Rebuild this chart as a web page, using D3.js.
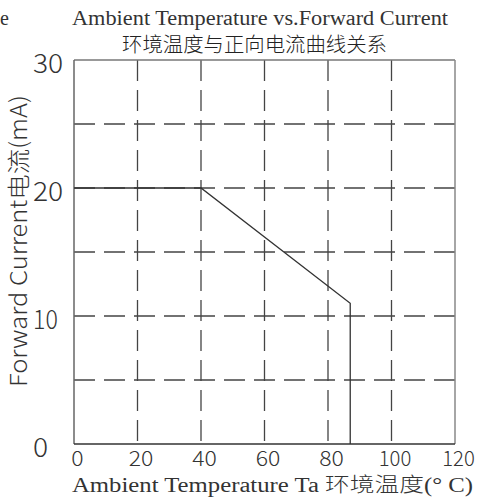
<!DOCTYPE html>
<html>
<head>
<meta charset="utf-8">
<script src="https://cdn.jsdelivr.net/npm/d3@7"></script>
<style>
  body { margin: 0; background: #fff; }
  svg { display: block; }
</style>
</head>
<body>
<div id="chart-area"></div>
<script>
// Data
const xTicks = [0, 20, 40, 60, 80, 100, 120];
const yTicks = [0, 10, 20, 30];
const xGrid = [20, 40, 60, 80, 100];
const yGrid = [5, 10, 15, 20, 25];
const curveTemp = [0, 40, 87, 87];
const curveCurrent = [20, 20, 11, 0];

const titleEn = 'Ambient Temperature vs.Forward Current';
const titleCn = '环境温度与正向电流曲线关系';
const xTitleParts = ['Ambient Temperature Ta ', '环境温度', '(° C)'];
const yTitle = 'Forward Current电流(mA)';

// Margin
const margin = { left: 74, right: 28, top: 60, bottom: 55 };
const width = 483 - margin.left - margin.right;
const height = 499 - margin.top - margin.bottom;

const svg = d3.select('#chart-area')
  .append('svg')
    .attr('width', 483)
    .attr('height', 499);

const g = svg.append('g')
  .attr('transform', 'translate(' + margin.left + ', ' + margin.top + ')');

// Scales
const x = d3.scaleLinear().domain([0, 120]).range([0, width]);
const y = d3.scaleLinear().domain([0, 30]).range([height, 0]);

const sans = '"Noto Sans CJK SC", Roboto, sans-serif';
const serif = '"Liberation Serif", "Noto Sans CJK SC", serif';

// rough label width, '1' is narrow in the reference
const labelWidth = (s, fs) => d3.sum(s.split(''), c => c === '1' ? 0.36 * fs : 0.56 * fs);

// Grid
g.selectAll('.hgrid')
  .data(yGrid)
  .enter().append('line')
    .attr('class', 'hgrid')
    .attr('x1', 0).attr('x2', width)
    .attr('y1', d => y(d)).attr('y2', d => y(d))
    .attr('stroke', '#444')
    .attr('stroke-width', 1.3)
    .attr('stroke-dasharray', '21,9');

g.selectAll('.vgrid')
  .data(xGrid)
  .enter().append('line')
    .attr('class', 'vgrid')
    .attr('x1', d => x(d)).attr('x2', d => x(d))
    .attr('y1', 0).attr('y2', height)
    .attr('stroke', '#444')
    .attr('stroke-width', 1.3)
    .attr('stroke-dasharray', '21,9');

// Frame
g.append('line').attr('x1', 0).attr('x2', width).attr('y1', 0).attr('y2', 0)
  .attr('stroke', '#777').attr('stroke-width', 1.5);
g.append('line').attr('x1', width).attr('x2', width).attr('y1', 0).attr('y2', height)
  .attr('stroke', '#888').attr('stroke-width', 1.5);
g.append('line').attr('x1', 0).attr('x2', 0).attr('y1', 0).attr('y2', height)
  .attr('stroke', '#666').attr('stroke-width', 1.5);
g.append('line').attr('x1', 0).attr('x2', width).attr('y1', height).attr('y2', height)
  .attr('stroke', '#333').attr('stroke-width', 1.5);

// Curve
const line = d3.line()
  .x(d => x(d[0]))
  .y(d => y(d[1]));

g.append('path')
  .datum(d3.zip(curveTemp, curveCurrent))
  .attr('d', line)
  .attr('fill', 'none')
  .attr('stroke', '#333')
  .attr('stroke-width', 1.3);

// X tick labels
g.selectAll('.xlabel')
  .data(xTicks)
  .enter().append('text')
    .attr('class', 'xlabel')
    .attr('x', d => x(d) + 3.5)
    .attr('y', height + 22)
    .attr('text-anchor', 'middle')
    .attr('font-family', sans)
    .attr('font-weight', 300)
    .attr('font-size', '21px')
    .attr('fill', '#333')
    .attr('textLength', d => labelWidth(String(d), 22))
    .attr('lengthAdjust', 'spacingAndGlyphs')
    .text(d => d);

// Y tick labels
g.selectAll('.ylabel')
  .data(yTicks)
  .enter().append('text')
    .attr('class', 'ylabel')
    .attr('x', 33 - margin.left)
    .attr('y', d => y(d) + 13)
    .attr('font-family', sans)
    .attr('font-weight', 300)
    .attr('font-size', '27px')
    .attr('fill', '#333')
    .attr('textLength', d => labelWidth(String(d), 27))
    .attr('lengthAdjust', 'spacingAndGlyphs')
    .text(d => d);

// Titles
svg.append('text')
  .attr('x', 0).attr('y', 25)
  .attr('font-family', serif)
  .attr('font-size', '20px')
  .attr('fill', '#333')
  .text('e');

svg.append('text')
  .attr('x', 72).attr('y', 25)
  .attr('font-family', serif)
  .attr('font-size', '20px')
  .attr('fill', '#333')
  .attr('textLength', 376)
  .attr('lengthAdjust', 'spacingAndGlyphs')
  .text(titleEn);

svg.append('text')
  .attr('x', 122).attr('y', 52)
  .attr('font-family', '"Noto Sans CJK SC", sans-serif')
  .attr('font-weight', 300)
  .attr('font-size', '20px')
  .attr('fill', '#222')
  .attr('textLength', 265)
  .attr('lengthAdjust', 'spacingAndGlyphs')
  .text(titleCn);

// X label
const xt = svg.append('text')
  .attr('x', 72).attr('y', 492)
  .attr('font-family', serif)
  .attr('font-size', '20px')
  .attr('fill', '#333')
  .attr('textLength', 401)
  .attr('lengthAdjust', 'spacingAndGlyphs');

xt.selectAll('tspan')
  .data(xTitleParts)
  .enter().append('tspan')
    .attr('font-family', (d, i) => i === 1 ? sans : serif)
    .attr('font-weight', (d, i) => i === 1 ? 300 : null)
    .text(d => d);

// Y label
svg.append('text')
  .attr('transform', 'translate(27, 241) rotate(-90)')
  .attr('text-anchor', 'middle')
  .attr('font-family', sans)
  .attr('font-weight', 300)
  .attr('font-size', '23px')
  .attr('fill', '#333')
  .attr('textLength', 292)
  .attr('lengthAdjust', 'spacingAndGlyphs')
  .text(yTitle);
</script>
</body>
</html>
